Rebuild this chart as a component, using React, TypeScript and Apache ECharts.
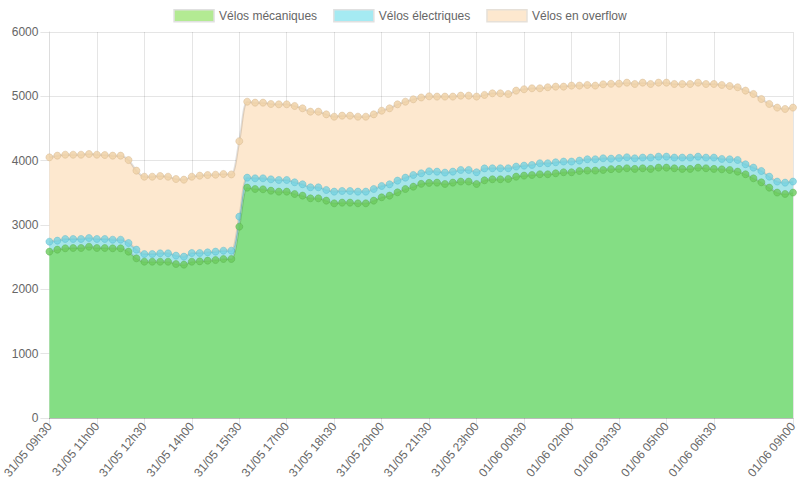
import React, { useEffect, useRef } from "react";
import * as echarts from "echarts";

const START_DAY = 31;
const START_MONTH = 5;
const START_MINUTES = 9 * 60 + 30;
const STEP_MINUTES = 15;
const POINT_COUNT = 95;

const seriesNames = ["Vélos mécaniques", "Vélos électriques", "Vélos en overflow"];

const mecaniques = [
  2586, 2617, 2638, 2643, 2643, 2663, 2643, 2643, 2638, 2638,
  2586, 2482, 2430, 2430, 2430, 2430, 2394, 2384, 2430, 2435,
  2446, 2456, 2472, 2472, 2974, 3581, 3560, 3555, 3534, 3519,
  3519, 3482, 3457, 3415, 3415, 3379, 3337, 3348, 3348, 3337,
  3337, 3379, 3431, 3457, 3508, 3560, 3596, 3640, 3655, 3659,
  3638, 3659, 3675, 3675, 3638, 3695, 3711, 3711, 3716, 3752,
  3768, 3778, 3789, 3789, 3804, 3820, 3820, 3840, 3846, 3846,
  3856, 3868, 3872, 3882, 3872, 3882, 3872, 3892, 3892, 3882,
  3872, 3872, 3892, 3882, 3872, 3866, 3856, 3830, 3789, 3726,
  3664, 3581, 3504, 3483, 3504,
];

const electriques = [
  155, 140, 145, 140, 140, 135, 140, 140, 134, 134,
  134, 135, 119, 119, 130, 130, 130, 124, 135, 130,
  129, 130, 129, 129, 156, 155, 166, 171, 176, 181,
  181, 182, 176, 171, 171, 166, 182, 181, 181, 182,
  182, 181, 176, 176, 182, 176, 182, 164, 180, 171,
  177, 171, 181, 181, 182, 185, 171, 171, 166, 156,
  155, 156, 171, 171, 171, 166, 166, 161, 176, 176,
  181, 164, 170, 171, 165, 166, 176, 171, 171, 166,
  176, 176, 171, 166, 176, 161, 166, 181, 155, 166,
  176, 171, 171, 176, 171,
];

const overflow = [
  1311, 1321, 1310, 1310, 1310, 1306, 1310, 1305, 1306, 1306,
  1290, 1228, 1202, 1202, 1202, 1191, 1191, 1197, 1186, 1202,
  1202, 1196, 1192, 1185, 1173, 1181, 1176, 1176, 1171, 1176,
  1176, 1186, 1181, 1176, 1176, 1175, 1165, 1171, 1171, 1165,
  1165, 1160, 1170, 1181, 1186, 1181, 1176, 1178, 1165, 1166,
  1181, 1166, 1155, 1155, 1176, 1142, 1165, 1165, 1155, 1181,
  1187, 1191, 1165, 1181, 1176, 1165, 1181, 1166, 1155, 1145,
  1150, 1163, 1156, 1160, 1155, 1165, 1144, 1150, 1150, 1144,
  1144, 1144, 1150, 1144, 1144, 1150, 1139, 1130, 1145, 1145,
  1119, 1130, 1150, 1145, 1150,
];

const yTicks = [0, 1000, 2000, 3000, 4000, 5000, 6000];

const pad = (n: number) => (n < 10 ? "0" + n : String(n));

function buildCategories(): string[] {
  const out: string[] = [];
  for (let i = 0; i < POINT_COUNT; i++) {
    const total = START_MINUTES + i * STEP_MINUTES;
    const dayOffset = Math.floor(total / 1440);
    const m = total % 1440;
    const day = dayOffset === 0 ? START_DAY : dayOffset;
    const month = dayOffset === 0 ? START_MONTH : START_MONTH + 1;
    out.push(`${pad(day)}/${pad(month)} ${pad(Math.floor(m / 60))}h${pad(m % 60)}`);
  }
  return out;
}

const categories = buildCategories();

const showTick = (index: number) =>
  (index % 6 === 0 && index !== 90) || index === categories.length - 1;

const FONT = "'Liberation Sans', Arial, Helvetica, sans-serif";
const GRID_COLOR = "rgba(0,0,0,0.1)";

export default function App() {
  const ref = useRef<HTMLDivElement>(null);

  useEffect(() => {
    if (!ref.current) return;
    const chart = echarts.init(ref.current, undefined, { renderer: "svg" });

    const makeSeries = (
      name: string,
      data: number[],
      area: string,
      point: string,
      pointBorder: string,
      z: number
    ) => ({
      name,
      type: "line",
      stack: "total",
      data,
      smooth: 0.3,
      z,
      symbol: "circle",
      symbolSize: 7,
      showSymbol: true,
      showAllSymbol: true,
      lineStyle: { color: "rgba(0,0,0,0.12)", width: 2 },
      itemStyle: { color: point, borderColor: pointBorder, borderWidth: 1 },
      areaStyle: { color: area, opacity: 1 },
      emphasis: { disabled: true },
    });

    chart.setOption({
      animation: false,
      textStyle: { fontFamily: FONT },
      legend: {
        top: 4,
        left: "center",
        itemWidth: 40,
        itemHeight: 12,
        itemGap: 16,
        icon: "rect",
        textStyle: { color: "#666", fontSize: 12, fontFamily: FONT },
        data: [
          { name: seriesNames[0], itemStyle: { color: "#b3ea93", borderColor: "#e0e0e0", borderWidth: 1.5 } },
          { name: seriesNames[1], itemStyle: { color: "#a5eaf2", borderColor: "#e0e0e0", borderWidth: 1.5 } },
          { name: seriesNames[2], itemStyle: { color: "#fde8cf", borderColor: "#e6e0d8", borderWidth: 1.5 } },
        ],
      },
      grid: { left: 47, right: 7, top: 32, bottom: 82, containLabel: false },
      xAxis: {
        type: "category",
        boundaryGap: false,
        data: categories,
        axisLine: { show: true, lineStyle: { color: "#bbb", width: 1 } },
        axisTick: {
          show: true,
          interval: (i: number) => showTick(i),
          length: 8,
          lineStyle: { color: GRID_COLOR },
        },
        axisLabel: {
          interval: (i: number) => showTick(i),
          rotate: 50,
          color: "#666",
          fontSize: 12,
          fontFamily: FONT,
          margin: 6,
        },
        splitLine: {
          show: true,
          interval: (i: number) => showTick(i),
          lineStyle: { color: GRID_COLOR },
        },
      },
      yAxis: {
        type: "value",
        min: yTicks[0],
        max: yTicks[yTicks.length - 1],
        interval: 1000,
        axisLine: { show: true, lineStyle: { color: "#ddd" } },
        axisTick: { show: true, length: 9, lineStyle: { color: GRID_COLOR } },
        axisLabel: {
          color: "#666",
          fontSize: 12,
          fontFamily: FONT,
          margin: 11,
          formatter: (v: number) => String(v),
        },
        splitLine: { show: true, lineStyle: { color: GRID_COLOR } },
      },
      series: [
        makeSeries(seriesNames[0], mecaniques, "#84de84", "rgba(108,203,92,0.8)", "rgba(90,175,80,0.45)", 4),
        makeSeries(seriesNames[1], electriques, "#a6e5e9", "rgba(118,210,224,0.8)", "rgba(90,185,205,0.45)", 3),
        makeSeries(seriesNames[2], overflow, "#fde8cf", "rgba(240,210,168,0.85)", "rgba(215,185,145,0.5)", 2),
      ],
    });

    return () => chart.dispose();
  }, []);

  return (
    <div
      ref={ref}
      style={{ position: "fixed", left: 0, top: 0, width: 800, height: 500, background: "#fff" }}
    />
  );
}
